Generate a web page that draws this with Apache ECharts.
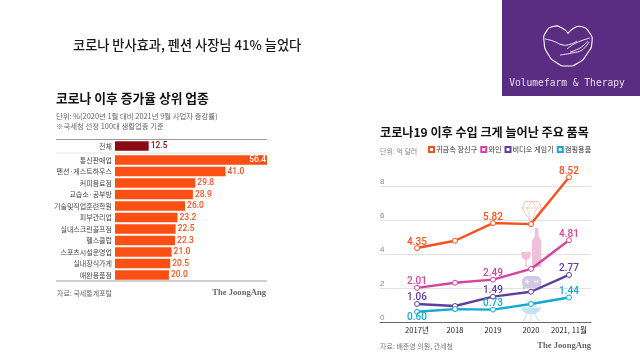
<!DOCTYPE html>
<html><head><meta charset="utf-8">
<style>html,body{margin:0;padding:0;background:#fff}#c{width:640px;height:360px}</style>
<script src="https://cdn.jsdelivr.net/npm/echarts@6/dist/echarts.min.js"></script>
</head><body><div id="c"></div>
<script>
const totalCategory = ['전체'];
const totalValue = [12.5];
const barCategories = ['통신판매업','펜션·게스트하우스','커피음료점','교습소·공부방','기술및직업훈련학원','피부관리업','실내스크린골프점','헬스클럽','스포츠시설운영업','실내장식가게','애완용품점'];
const barValues = [56.4,41.0,29.8,28.9,26.0,23.2,22.5,22.3,21.0,20.5,20.0];
const years = ['2017년','2018','2019','2020','2021, 11월'];
const metalName = '귀금속 장신구', wineName = '와인', gameName = '비디오 게임기', campName = '캠핑용품';
const metal = [4.35,4.78,5.82,5.76,8.52];
const wine = [2.01,2.31,2.49,3.12,4.81];
const game = [1.06,0.94,1.49,1.78,2.77];
const camp = [0.60,0.76,0.73,1.06,1.44];
const labelledPoints = [0,2,4];

const KR = '"Noto Sans CJK KR","Noto Sans",sans-serif';
const chart = echarts.init(document.getElementById('c'),null,{renderer:'canvas'});

function txt(x,y,t,size,color,weight,align,family){
  return {type:'text',x,y,z:5,style:{text:t,fontSize:size,fill:color,fontWeight:weight||'normal',
    fontFamily:family||KR,align:align||'left',verticalAlign:'middle'}};
}
function ln(x1,y1,x2,y2,color,w){return {type:'line',z:1,shape:{x1,y1,x2,y2},style:{stroke:color,lineWidth:w}};}
function stroke(points,color,w,smooth){return {type:'polyline',z:1,shape:{points,smooth:smooth||0},style:{stroke:color,lineWidth:w,fill:null}};}
function fill(points,color){return {type:'polygon',z:1,shape:{points},style:{fill:color}};}

const dia='#f8bda8', win='#f2bfdb', pad='#cfc9e6', bbq='#bde5f2';
const graphics = [
  {type:'rect',z:0,shape:{x:502,y:0,width:138,height:96},style:{fill:'#5a2d82'}},
  txt(73,44.5,'코로나 반사효과, 펜션 사장님 41% 늘었다',13.2,'#1a1a1a','500'),
  txt(567,83.5,'Volumefarm & Therapy',9.6,'#e6deee','normal','center','"DejaVu Sans Mono",monospace'),
  // logo
  stroke([[568,33.5],[562,28],[553,26.5],[546,32],[544,41],[548,54],[557,63],[567,66],[578,63],[587,54],[592,42],[589,32],[581,26.5],[574,28],[568,33.5]],'#fff',1.1,0.6),
  stroke([[545,39],[553,41],[563,45],[571,44],[577,41]],'#fff',0.9,0.5),
  stroke([[567,49],[576,43],[590,38]],'#fff',0.9,0.5),
  stroke([[570,52],[580,48],[588,41]],'#fff',0.9,0.5),
  stroke([[560,55],[572,53],[582,50],[589,42]],'#fff',0.9,0.5),
  // left panel
  txt(56,98,'코로나 이후 증가율 상위 업종',12.8,'#111','bold'),
  txt(56,116,'단위: %(2020년 1월 대비 2021년 9월 사업자 증감률)',7.4,'#666'),
  txt(56,126,'※국세청 선정 100대 생활업종 기준',7.4,'#666'),
  ln(56,139.5,267,139.5,'#999',1.2),
  ln(56,153,267,153,'#ddd',0.8),
  ln(56,281,267,281,'#888',0.8),
  txt(57,293,'자료: 국세통계포털',7,'#666'),
  txt(266,293,'The JoongAng',8.6,'#666','bold','right','"Liberation Serif",serif'),
  // right panel
  txt(380,132,'코로나19 이후 수입 크게 늘어난 주요 품목',12.1,'#111','bold'),
  txt(380,151,'단위: 억 달러',7,'#888'),
  txt(380,346,'자료: 배준영 의원, 관세청',7,'#777'),
  txt(591,346,'The JoongAng',8.6,'#666','bold','right','"Liberation Serif",serif'),
  // diamond
  stroke([[525,201.5],[538.5,201.5],[541.5,208],[531.7,223],[522,208],[525,201.5]],dia,0.9),
  stroke([[522,208],[541.5,208]],dia,0.7),
  stroke([[527,208],[531.7,223],[536.5,208],[531.7,201.5],[527,208]],dia,0.7),
  // wine
  fill([[535,228],[538.5,228],[538.5,236],[541.3,241],[541.3,267],[532,267],[532,241],[535,236]],win),
  fill([[521,252],[531,252],[530,258],[526.6,260],[526.6,265.5],[529,266.5],[523,266.5],[525.4,265.5],[525.4,260],[522,258]],win),
  // gamepad
  {type:'rect',z:1,shape:{x:522,y:276,width:19.5,height:12,r:5.5},style:{fill:pad}},
  fill([[523,283],[527,283],[525,289.5],[522.5,289.5]],pad),
  fill([[536.5,283],[540.5,283],[541,289.5],[538.5,289.5]],pad),
  {type:'rect',z:1,shape:{x:525,y:281,width:4.4,height:1.1},style:{fill:'#fff'}},
  {type:'rect',z:1,shape:{x:526.6,y:279.4,width:1.1,height:4.4},style:{fill:'#fff'}},
  {type:'circle',z:1,shape:{cx:535,cy:281.5,r:0.9},style:{fill:'#fff'}},
  {type:'circle',z:1,shape:{cx:537.5,cy:281.5,r:0.9},style:{fill:'#fff'}},
  // bbq
  fill([[521,307.5],[541,307.5],[539.5,311],[535,314],[527,314],[522.5,311]],bbq),
  stroke([[527,314],[523.5,321]],bbq,1),
  stroke([[535,314],[538.5,321]],bbq,1),
  stroke([[531,314],[531,321]],bbq,1),
  stroke([[526.5,299.5],[527.5,301],[526.5,303]],bbq,0.8),
  stroke([[530.5,299.5],[531.5,301],[530.5,303]],bbq,0.8),
  stroke([[534.5,299.5],[535.5,301],[534.5,303]],bbq,0.8)
];

function lineSeries(name,values,color,posFn){
  return {type:'line',name,xAxisIndex:3,yAxisIndex:3,z:4,
    data:values.map((v,i)=>({value:v,
      label:{show:labelledPoints.includes(i),position:posFn?posFn(i):'top',distance:-2}})),
    symbol:'circle',symbolSize:5,showSymbol:true,
    lineStyle:{color,width:2.4},
    itemStyle:{color:'#fff',borderColor:color,borderWidth:1},
    label:{color,fontSize:10,fontWeight:500,fontFamily:'Roboto,"Liberation Sans",sans-serif',
      formatter:p=>p.value.toFixed(2)}
  };
}
const sMetal=lineSeries(metalName,metal,'#f4511e');
const sWine=lineSeries(wineName,wine,'#d4449c');
const sGame=lineSeries(gameName,game,'#5d3f9f');
const sCamp=lineSeries(campName,camp,'#13a9d1',i=>i===0?'bottom':'top');

chart.setOption({
  animation:false,backgroundColor:'#fff',
  graphic:{elements:graphics},
  legend:{left:428,top:146,padding:0,itemWidth:5,itemHeight:5,itemGap:3,icon:'rect',
    data:[metalName,wineName,gameName,campName].map(name=>({name,itemStyle:{}})),
    textStyle:{fontSize:7.2,color:'#333',fontFamily:KR,padding:[0,0,0,-3]}},
  grid:[
    {left:115,top:140.5,width:152,height:11},
    {left:115,top:154.25,width:152,height:126.5},
    {left:380,top:186,width:211,height:136},
    {left:398,top:152,width:190,height:170}
  ],
  xAxis:[
    {gridIndex:0,type:'value',min:0,max:56.4,show:false},
    {gridIndex:1,type:'value',min:0,max:56.4,show:false},
    {gridIndex:2,type:'value',min:0,max:1,axisLabel:{show:false},axisTick:{show:false},splitLine:{show:false},
      axisLine:{show:true,lineStyle:{color:'#666',width:1}}},
    {gridIndex:3,type:'category',data:years,axisLine:{show:false},axisTick:{show:false},
      axisLabel:{color:'#222',fontSize:7.6,margin:4,fontFamily:KR,interval:0}}
  ],
  yAxis:[
    {gridIndex:0,type:'category',data:totalCategory,inverse:true,axisLine:{show:false},axisTick:{show:false},
      axisLabel:{color:'#444',fontSize:7,margin:3,fontFamily:KR}},
    {gridIndex:1,type:'category',data:barCategories,inverse:true,axisLine:{show:false},axisTick:{show:false},
      axisLabel:{color:'#444',fontSize:7,margin:3,fontFamily:KR,interval:0}},
    {gridIndex:2,type:'value',min:0,max:8,interval:2,axisLine:{show:false},axisTick:{show:false},
      splitLine:{show:true,lineStyle:{color:'#e2e2e2',width:1}},
      axisLabel:{inside:true,margin:0,color:'#888',fontSize:8,verticalAlign:'bottom',fontFamily:'"Liberation Sans",sans-serif'}},
    {gridIndex:3,type:'value',min:0,max:10,show:false}
  ],
  series:[
    {type:'bar',xAxisIndex:0,yAxisIndex:0,data:totalValue,barWidth:9.5,itemStyle:{color:'#8b0a14'},
      label:{show:true,position:'right',distance:2,color:'#8b0a14',fontSize:8.5,fontWeight:500,
        fontFamily:'Roboto,"Liberation Sans",sans-serif',formatter:p=>p.value.toFixed(1)}},
    {type:'bar',xAxisIndex:1,yAxisIndex:1,barWidth:9.5,itemStyle:{color:'#fb4f14'},
      data:barValues.map((v,i)=>({value:v,label:i===0?{position:'insideRight',color:'#fff',distance:1}:{}})),
      label:{show:true,position:'right',distance:2,color:'#f4511e',fontSize:8.5,fontWeight:500,
        fontFamily:'Roboto,"Liberation Sans",sans-serif',formatter:p=>p.value.toFixed(1)}},
    sMetal,sWine,sGame,sCamp
  ]
});
</script></body></html>
